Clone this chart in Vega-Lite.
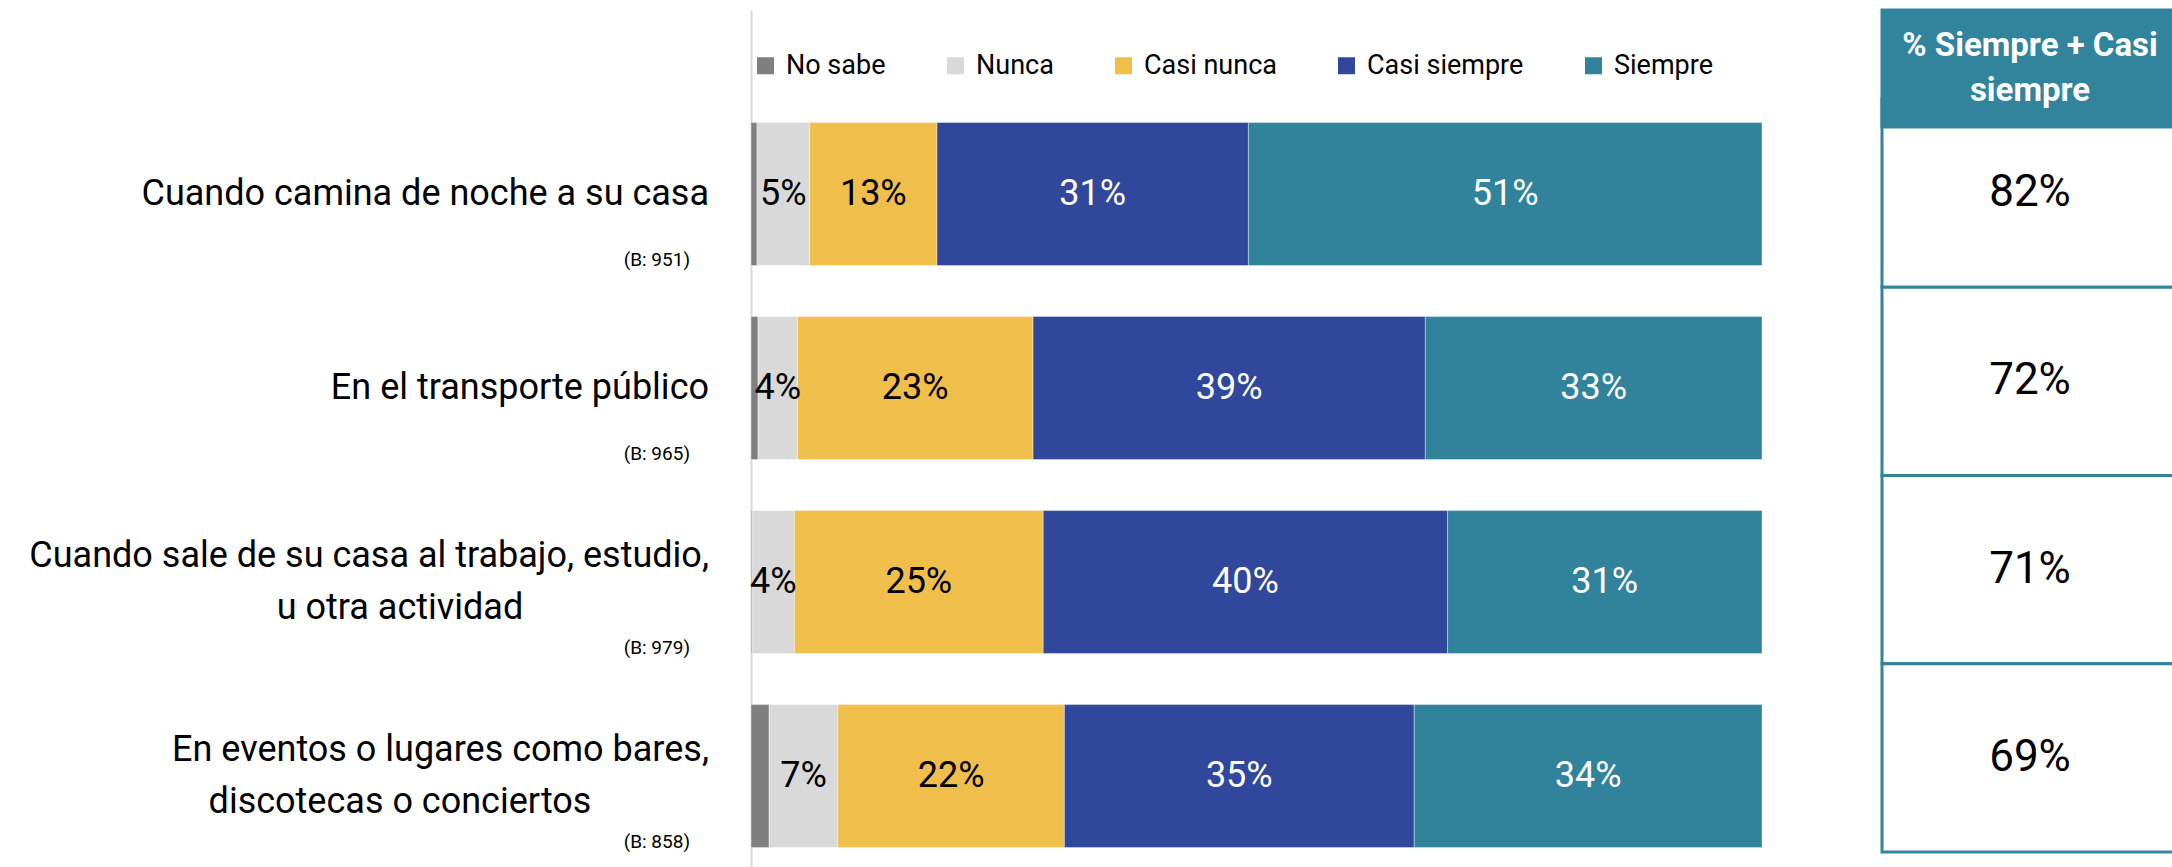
{
  "$schema": "https://vega.github.io/schema/vega-lite/v6.json",
  "background": "white",
  "padding": {"left": 0, "top": 8, "right": 0, "bottom": 0},
  "config": {"view": {"stroke": null}},
  "datasets": {
    "bars": [
      {"id": 1, "cat": "No sabe", "o": 1, "v": 0.006},
      {"id": 1, "cat": "Nunca", "o": 2, "v": 0.052},
      {"id": 1, "cat": "Casi nunca", "o": 3, "v": 0.126},
      {"id": 1, "cat": "Casi siempre", "o": 4, "v": 0.308},
      {"id": 1, "cat": "Siempre", "o": 5, "v": 0.508},
      {"id": 2, "cat": "No sabe", "o": 1, "v": 0.007},
      {"id": 2, "cat": "Nunca", "o": 2, "v": 0.039},
      {"id": 2, "cat": "Casi nunca", "o": 3, "v": 0.233},
      {"id": 2, "cat": "Casi siempre", "o": 4, "v": 0.388},
      {"id": 2, "cat": "Siempre", "o": 5, "v": 0.333},
      {"id": 3, "cat": "No sabe", "o": 1, "v": 0.001},
      {"id": 3, "cat": "Nunca", "o": 2, "v": 0.042},
      {"id": 3, "cat": "Casi nunca", "o": 3, "v": 0.246},
      {"id": 3, "cat": "Casi siempre", "o": 4, "v": 0.4},
      {"id": 3, "cat": "Siempre", "o": 5, "v": 0.311},
      {"id": 4, "cat": "No sabe", "o": 1, "v": 0.018},
      {"id": 4, "cat": "Nunca", "o": 2, "v": 0.068},
      {"id": 4, "cat": "Casi nunca", "o": 3, "v": 0.224},
      {"id": 4, "cat": "Casi siempre", "o": 4, "v": 0.346},
      {"id": 4, "cat": "Siempre", "o": 5, "v": 0.344}
    ],
    "items": [
      {"id": 1, "l1": "Cuando camina de noche a su casa", "l2": null, "base": "(B: 951)"},
      {"id": 2, "l1": "En el transporte público", "l2": null, "base": "(B: 965)"},
      {"id": 3, "l1": "Cuando sale de su casa al trabajo, estudio,", "l2": "u otra actividad", "base": "(B: 979)"},
      {"id": 4, "l1": "En eventos o lugares como bares,", "l2": "discotecas o conciertos", "base": "(B: 858)"}
    ],
    "table": [
      {"id": 1, "p": 0.82},
      {"id": 2, "p": 0.72},
      {"id": 3, "p": 0.71},
      {"id": 4, "p": 0.69}
    ]
  },
  "spacing": 120,
  "bounds": "flush",
  "hconcat": [
    {
      "width": 631,
      "height": 859,
      "data": {"name": "items"},
      "encoding": {
        "y": {"field": "id", "type": "ordinal", "axis": null, "scale": {"type": "band", "paddingInner": 0.263, "paddingOuter": 0.3454, "align": 0.84}},
        "x": {"datum": 1, "type": "quantitative", "scale": {"domain": [0, 1]}, "axis": null}
      },
      "layer": [
        {
          "transform": [{"filter": "!datum.l2"}],
          "mark": {"type": "text", "align": "right", "baseline": "middle", "dx": 78, "font": "Roboto", "fontSize": 36, "color": "black"},
          "encoding": {"text": {"field": "l1"}}
        },
        {
          "transform": [{"filter": "datum.l2"}],
          "mark": {"type": "text", "align": "right", "baseline": "middle", "dx": 78, "dy": -26, "font": "Roboto", "fontSize": 36, "color": "black"},
          "encoding": {"text": {"field": "l1"}}
        },
        {
          "transform": [{"filter": "datum.l2"}],
          "mark": {"type": "text", "align": "center", "baseline": "middle", "dx": -231, "dy": 26, "font": "Roboto", "fontSize": 36, "color": "black"},
          "encoding": {"text": {"field": "l2"}}
        },
        {
          "mark": {"type": "text", "align": "right", "baseline": "middle", "dx": 59, "dy": 66, "font": "Roboto", "fontSize": 19, "color": "black"},
          "encoding": {"text": {"field": "base"}}
        }
      ]
    },
    {
      "width": 1011,
      "height": 859,
      "data": {"name": "bars"},
      "encoding": {
        "y": {"field": "id", "type": "ordinal", "scale": {"paddingInner": 0.263, "paddingOuter": 0.3454, "align": 0.84},
          "axis": {"title": null, "labels": false, "ticks": false, "grid": false, "domainColor": "#D9D9D9", "domainWidth": 2}}
      },
      "layer": [
        {
          "mark": {"type": "bar", "stroke": "white", "strokeWidth": 0.75, "strokeOpacity": 0.5},
          "encoding": {
            "x": {"field": "v", "type": "quantitative", "stack": "zero", "scale": {"domain": [0, 1]}, "axis": null},
            "color": {"field": "cat", "type": "nominal",
              "scale": {"domain": ["No sabe", "Nunca", "Casi nunca", "Casi siempre", "Siempre"], "range": ["#7F7F7F", "#D9D9D9", "#F0BE4A", "#30479B", "#31839B"]},
              "legend": {"orient": "none", "legendX": 752, "legendY": 42, "direction": "horizontal", "title": null, "symbolType": "square", "symbolSize": 289, "symbolStrokeWidth": 0, "labelFont": "Roboto", "labelFontSize": 27, "labelColor": "black", "labelOffset": 7, "labelLimit": 400, "columnPadding": 56, "padding": 0}},
            "order": {"field": "o"}
          }
        },
        {
          "mark": {"type": "text", "baseline": "middle", "align": "center", "font": "Roboto", "fontSize": 36},
          "encoding": {
            "x": {"field": "v", "type": "quantitative", "stack": "zero", "bandPosition": 0.5},
            "detail": {"field": "cat"},
            "order": {"field": "o"},
            "text": {"condition": {"test": "datum.cat === 'No sabe'", "value": ""}, "field": "v", "type": "quantitative", "format": ".0%"},
            "color": {"condition": {"test": "datum.cat === 'Casi siempre' || datum.cat === 'Siempre'", "value": "white"}, "value": "black"}
          }
        }
      ]
    },
    {
      "width": 296,
      "height": 842,
      "data": {"name": "table"},
      "resolve": {"scale": {"y": "independent"}},
      "layer": [
        {
          "mark": {"type": "rect", "fill": "white", "stroke": "#31849B", "strokeWidth": 3},
          "encoding": {
            "y": {"field": "id", "type": "ordinal", "axis": null, "scale": {"type": "band", "paddingInner": 0, "paddingOuter": 0.2364, "align": 1}}
          }
        },
        {
          "mark": {"type": "text", "font": "Roboto", "fontSize": 44, "color": "black", "baseline": "middle", "align": "center"},
          "encoding": {
            "y": {"field": "id", "type": "ordinal", "axis": null, "scale": {"type": "band", "paddingInner": 0, "paddingOuter": 0.2364, "align": 1}},
            "text": {"field": "p", "type": "quantitative", "format": ".0%"}
          }
        },
        {
          "transform": [{"filter": "datum.id === 1"}],
          "mark": {"type": "rect", "fill": "#31849B", "stroke": "#31849B", "strokeWidth": 3},
          "encoding": {
            "y": {"field": "id", "type": "ordinal", "axis": null, "scale": {"type": "band", "paddingInner": 0.6772, "paddingOuter": 1, "align": 0}}
          }
        },
        {
          "transform": [{"filter": "datum.id === 1"}],
          "mark": {"type": "text", "text": "% Siempre + Casi\nsiempre", "lineBreak": "\n", "font": "Roboto", "fontWeight": "bold", "fontSize": 33, "lineHeight": 45, "color": "white", "baseline": "middle", "align": "center", "dy": -23},
          "encoding": {
            "y": {"field": "id", "type": "ordinal", "axis": null, "scale": {"type": "band", "paddingInner": 0.6772, "paddingOuter": 1, "align": 0}}
          }
        }
      ]
    }
  ]
}
